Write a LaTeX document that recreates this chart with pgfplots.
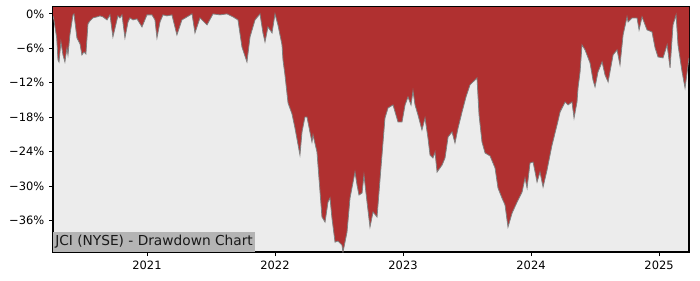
\documentclass[border=0pt]{standalone}
\usepackage{fontspec}
\setmainfont{DejaVu Sans}
\usepackage{pgfplots}
\pgfplotsset{compat=1.18}
\definecolor{ddred}{RGB}{176,48,48}
\definecolor{bggray}{RGB}{236,236,236}
\definecolor{boxgray}{RGB}{180,180,180}
\begin{document}
\begin{tikzpicture}
\begin{axis}[
  scale only axis,
  width=477pt, height=183.75pt,
  xmin=2020.266, xmax=2025.234,
  ymin=-41.5, ymax=1.2,
  axis background/.style={fill=bggray},
  xtick={2021,2022,2023,2024,2025},
  xticklabels={2021,2022,2023,2024,2025},
  ytick={-36,-30,-24,-18,-12,-6,0},
  yticklabels={−36\%,−30\%,−24\%,−18\%,−12\%,−6\%,0\%},
  tick align=outside,
  tick pos=left,
  major tick length=3pt,
  tick style={black, line width=0.6pt},
  axis line style={black, line width=0.8pt},
  tick label style={font=\fontsize{8.6}{10}\selectfont},
  clip=true,
]
\pgfplotstableread{
x y
2020.266 -0.35
2020.273 -1.05
2020.295 -4.19
2020.305 -8.02
2020.313 -8.37
2020.328 -4.88
2020.344 -7.15
2020.359 -8.37
2020.375 -5.93
2020.383 -7.15
2020.398 -3.66
2020.422 -0.17
2020.430 0
2020.453 -4.19
2020.477 -5.23
2020.492 -7.15
2020.508 -6.63
2020.523 -6.98
2020.539 -1.74
2020.555 -1.22
2020.578 -0.70
2020.609 -0.52
2020.633 -0.35
2020.656 -0.52
2020.688 -1.05
2020.711 -0.17
2020.734 -4.01
2020.773 -0.35
2020.789 -0.70
2020.805 -0.17
2020.828 -4.19
2020.852 -1.40
2020.867 -0.70
2020.891 -1.05
2020.922 -0.87
2020.961 -2.27
2021.000 -0.17
2021.039 -0.17
2021.0625 -1.05
2021.078 -4.19
2021.102 -1.40
2021.125 -0.17
2021.156 -0.35
2021.195 -0.17
2021.234 -3.66
2021.273 -1.05
2021.313 -0.52
2021.352 0
2021.375 -3.31
2021.414 -0.70
2021.469 -1.92
2021.516 0
2021.570 -0.17
2021.625 0
2021.672 -0.52
2021.711 -1.05
2021.742 -5.76
2021.781 -8.37
2021.805 -4.01
2021.844 -1.05
2021.883 0
2021.906 -3.31
2021.922 -4.88
2021.945 -2.27
2021.977 -3.31
2022.000 0
2022.023 -1.92
2022.055 -5.41
2022.0625 -8.02
2022.078 -10.64
2022.102 -15.52
2022.133 -17.44
2022.156 -19.88
2022.195 -24.59
2022.211 -20.58
2022.234 -17.96
2022.250 -17.96
2022.273 -20.58
2022.289 -22.32
2022.297 -21.10
2022.328 -24.07
2022.352 -31.04
2022.367 -35.40
2022.391 -36.28
2022.414 -32.79
2022.430 -32.09
2022.445 -35.58
2022.469 -39.77
2022.492 -39.59
2022.523 -40.29
2022.531 -41.51
2022.5625 -38.02
2022.586 -32.09
2022.625 -27.56
2022.641 -29.83
2022.656 -31.57
2022.680 -31.22
2022.695 -28.08
2022.719 -32.79
2022.742 -37.15
2022.766 -34.53
2022.797 -35.40
2022.820 -28.95
2022.859 -18.14
2022.883 -16.39
2022.922 -15.87
2022.961 -18.84
2022.992 -18.84
2023.016 -15.87
2023.039 -14.47
2023.0625 -15.87
2023.078 -13.43
2023.094 -15.87
2023.117 -17.61
2023.148 -20.23
2023.172 -18.14
2023.195 -21.62
2023.211 -24.59
2023.234 -25.11
2023.250 -24.07
2023.266 -27.56
2023.305 -26.34
2023.328 -25.11
2023.352 -21.45
2023.383 -20.58
2023.406 -22.50
2023.430 -19.88
2023.461 -17.09
2023.492 -14.47
2023.523 -12.38
2023.5625 -11.51
2023.578 -11.16
2023.594 -17.61
2023.617 -22.32
2023.641 -24.24
2023.680 -24.76
2023.719 -26.86
2023.742 -30.35
2023.773 -32.09
2023.797 -33.31
2023.820 -37.15
2023.852 -34.71
2023.891 -32.79
2023.930 -31.04
2023.953 -28.60
2023.969 -30.35
2023.992 -25.99
2024.016 -25.81
2024.047 -29.30
2024.070 -27.56
2024.094 -30.17
2024.125 -27.21
2024.164 -22.85
2024.203 -19.36
2024.227 -17.09
2024.266 -15.35
2024.289 -15.87
2024.320 -15.35
2024.336 -18.14
2024.359 -15.35
2024.367 -12.91
2024.383 -10.12
2024.398 -5.41
2024.422 -6.28
2024.461 -8.55
2024.484 -11.51
2024.500 -12.73
2024.523 -10.12
2024.555 -8.37
2024.578 -10.64
2024.602 -11.86
2024.641 -7.15
2024.672 -6.28
2024.695 -8.89
2024.719 -3.66
2024.750 -0.52
2024.758 -1.40
2024.789 -0.70
2024.828 -0.70
2024.844 -2.79
2024.867 -0.52
2024.906 -2.79
2024.945 -3.14
2024.969 -5.93
2024.992 -7.50
2025.031 -7.67
2025.063 -5.41
2025.086 -9.42
2025.109 -1.92
2025.133 -0.17
2025.148 -5.41
2025.180 -10.12
2025.203 -12.91
2025.234 -7.67
}\dd
\addplot[fill=ddred, draw=none] table[x=x,y=y] {\dd} -- (axis cs:2025.234,5) -- (axis cs:2020.266,5) -- cycle;
\addplot[draw=gray, line width=0.6pt] table[x=x,y=y] {\dd};
\node[anchor=south west, fill=boxgray, inner xsep=1.5pt, inner ysep=2.5pt,
  font=\fontsize{10.3}{12}\selectfont, text=black!90]
  at (rel axis cs:0,0) {JCI (NYSE) - Drawdown Chart};
\end{axis}
\path ([xshift=-39.75pt,yshift=-21pt]current axis.south west) rectangle ([xshift=8.25pt,yshift=5.25pt]current axis.north east);
\end{tikzpicture}
\end{document}
